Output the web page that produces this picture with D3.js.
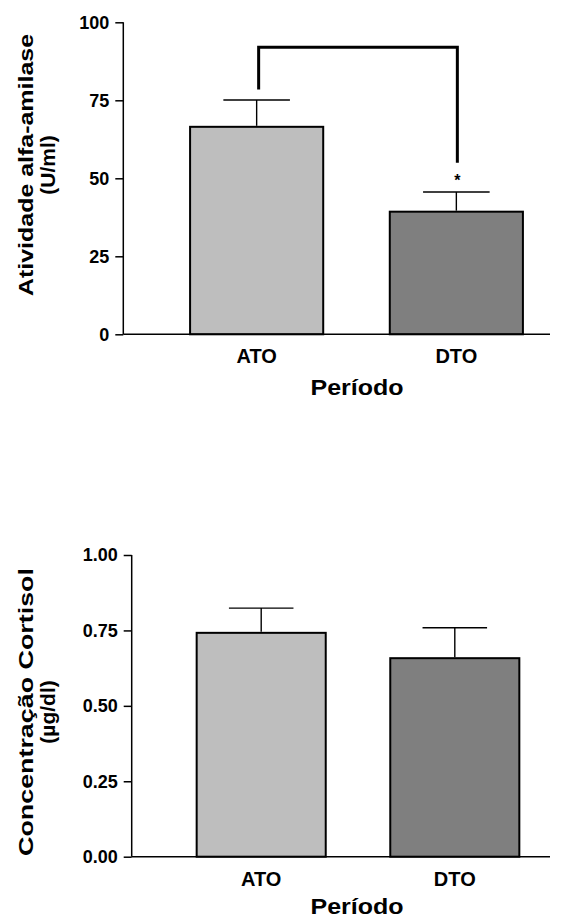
<!DOCTYPE html>
<html>
<head>
<meta charset="utf-8">
<script src="https://cdn.jsdelivr.net/npm/d3@7"></script>
<style>
  html, body { margin: 0; padding: 0; background: #fff; }
  svg { display: block; }
  text { font-family: "Liberation Sans", Arial, sans-serif; font-weight: bold; fill: #000; }
</style>
</head>
<body>
<svg id="chart" width="579" height="919"></svg>
<script>
// Periods compared
const periods = ["ATO", "DTO"];
const barColors = ["#bebebe", "#7f7f7f"];

// Alpha-amylase activity (U/ml): mean and SEM
const amylaseMean = [66.5, 39.3];
const amylaseSEM = [8.6, 6.3];
const amylaseTicks = [0, 25, 50, 75, 100];
// significance bracket (in U/ml): top level and the end of each leg
const amylaseBracket = { top: 92, leftEnd: 78.5, rightEnd: 55, star: 50.5 };

// Cortisol concentration (µg/dl): mean and SEM
const cortisolMean = [0.742, 0.658];
const cortisolSEM = [0.082, 0.101];
const cortisolTicks = [0, 0.25, 0.5, 0.75, 1.0];

const svg = d3.select("#chart");

function panel(opts) {
  const g = svg.append("g");
  const y = d3.scaleLinear().domain(opts.domain).range([opts.y0, opts.y1]);
  const x = d3.scaleBand().domain(periods).range(opts.xRange)
    .paddingInner(1 / 3).paddingOuter(1 / 6);

  // bars
  g.selectAll("rect.bar").data(periods).join("rect")
    .attr("class", "bar")
    .attr("x", d => x(d))
    .attr("width", x.bandwidth())
    .attr("y", (d, i) => y(opts.mean[i]))
    .attr("height", (d, i) => y(0) - y(opts.mean[i]))
    .attr("fill", (d, i) => barColors[i])
    .attr("stroke", "#000")
    .attr("stroke-width", 2);

  // error bars (upper SEM only)
  const capW = x.bandwidth() / 2;
  periods.forEach((p, i) => {
    const cx = x(p) + x.bandwidth() / 2;
    const yTop = y(opts.mean[i] + opts.sem[i]);
    g.append("line").attr("x1", cx).attr("x2", cx)
      .attr("y1", y(opts.mean[i]) - 1).attr("y2", yTop)
      .attr("stroke", "#000").attr("stroke-width", 1.4);
    g.append("line").attr("x1", cx - capW / 2).attr("x2", cx + capW / 2)
      .attr("y1", yTop).attr("y2", yTop)
      .attr("stroke", "#000").attr("stroke-width", 1.4);
  });

  // x baseline
  g.append("line").attr("x1", opts.axisX).attr("x2", opts.baseEnd)
    .attr("y1", y(0)).attr("y2", y(0))
    .attr("stroke", "#000").attr("stroke-width", 1.5);

  // y axis
  const yAxis = d3.axisLeft(y).tickValues(opts.ticks).tickSize(8).tickPadding(6)
    .tickFormat(opts.fmt);
  const ax = g.append("g").attr("transform", `translate(${opts.axisX},0)`).call(yAxis);
  ax.attr("font-size", null).attr("font-family", null);
  ax.select(".domain").attr("stroke", "#000").attr("stroke-width", 1.5)
    .attr("d", `M0,${y(opts.domain[0])}V${y(opts.domain[1])}`);
  ax.selectAll(".tick line").attr("stroke", "#000").attr("stroke-width", 1.5);
  ax.selectAll(".tick text").style("font-size", "18px").attr("fill", "#000");

  // category labels
  g.selectAll("text.cat").data(periods).join("text")
    .attr("class", "cat")
    .attr("x", d => x(d) + x.bandwidth() / 2)
    .attr("y", y(0) + opts.catDy)
    .attr("text-anchor", "middle")
    .style("font-size", "20px")
    .text(d => d);

  // x title
  g.append("text")
    .attr("x", opts.xTitleX).attr("y", y(0) + opts.xTitleDy)
    .attr("text-anchor", "middle").style("font-size", "22px")
    .attr("textLength", 93).attr("lengthAdjust", "spacingAndGlyphs")
    .text("Período");

  // y title, two lines
  const yt = g.append("g")
    .attr("transform", `translate(${opts.yTitleX},${opts.yTitleY}) rotate(-90)`);
  yt.append("text").attr("x", 0).attr("y", 0)
    .attr("text-anchor", "middle").style("font-size", "21px")
    .attr("textLength", opts.yTitleLen).attr("lengthAdjust", "spacingAndGlyphs")
    .text(opts.yTitle[0]);
  yt.append("text").attr("x", 0).attr("y", 22)
    .attr("text-anchor", "middle").style("font-size", "21px")
    .text(opts.yTitle[1]);

  return { g, x, y };
}

const amylasePanel = panel({
  domain: [0, 100], y0: 334.3, y1: 22.3,
  xRange: [156.8, 556.2], axisX: 123.3, baseEnd: 550,
  mean: amylaseMean, sem: amylaseSEM, ticks: amylaseTicks,
  fmt: d3.format("d"),
  catDy: 29, xTitleX: 357, xTitleDy: 61,
  yTitle: ["Atividade alfa-amilase", "(U/ml)"], yTitleLen: 262,
  yTitleX: 33, yTitleY: 165
});

// significance bracket between ATO and DTO
{
  const { g, x, y } = amylasePanel;
  const lx = x("ATO") + x.bandwidth() / 2 + 2;
  const rx = x("DTO") + x.bandwidth() / 2 + 1;
  const b = amylaseBracket;
  g.append("path")
    .attr("d", `M${lx},${y(b.leftEnd)}V${y(b.top)}H${rx}V${y(b.rightEnd)}`)
    .attr("fill", "none").attr("stroke", "#000").attr("stroke-width", 3);
  g.append("text").attr("x", rx).attr("y", y(b.star) + 9)
    .attr("text-anchor", "middle").style("font-size", "16px").text("*");
}

panel({
  domain: [0, 1], y0: 856.7, y1: 555,
  xRange: [164.4, 551.6], axisX: 131.7, baseEnd: 550,
  mean: cortisolMean, sem: cortisolSEM, ticks: cortisolTicks,
  fmt: d3.format(".2f"),
  catDy: 29, xTitleX: 357, xTitleDy: 57,
  yTitle: ["Concentração Cortisol", "(µg/dl)"], yTitleLen: 288,
  yTitleX: 33, yTitleY: 712
});
</script>
</body>
</html>
